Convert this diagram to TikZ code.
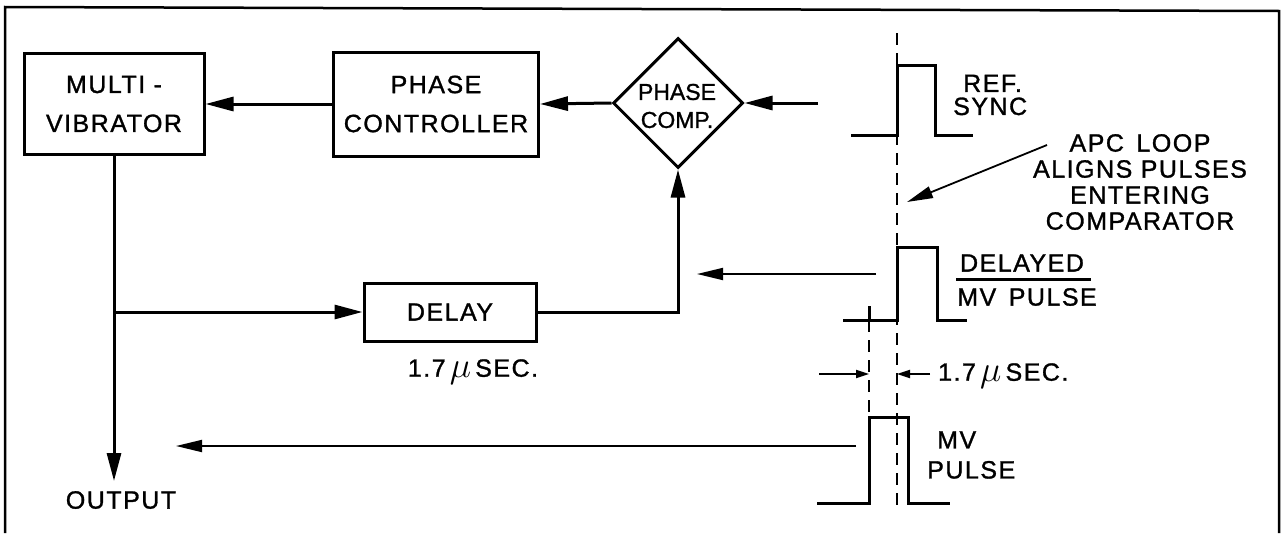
\documentclass[tikz,border=0pt]{standalone}
\usepackage{fontspec}
\setmainfont{Liberation Sans}[LetterSpace=6,FakeBold=1.2]
\usetikzlibrary{shapes.geometric,arrows.meta}
\newcommand{\mymu}{\raisebox{-1pt}{\scalebox{1.45}{$\mu$}}}
\tikzset{
 blk/.style={draw, line width=3pt, rectangle, inner sep=0pt, align=center, font=\fontsize{25}{39}\selectfont},
 lbl/.style={inner sep=0pt, font=\fontsize{25}{26}\selectfont},
 wire/.style={line width=3pt},
 arr/.style={wire, -{Triangle[length=28pt,width=14pt]}},
 sig/.style={line width=1.8pt, -{Triangle[length=26pt,width=12pt]}},
 pulse/.style={line width=3pt, line join=miter},
 guide/.style={line width=2pt, dash pattern=on 12pt off 8pt},
 dimarr/.style={line width=1.8pt, -{Triangle[length=13pt,width=8pt]}},
 frame/.style={line width=2.5pt},
}
\begin{document}
\begin{tikzpicture}[x=1pt,y=-1pt]
\useasboundingbox (0,0) rectangle (1282,533);
% frame
\draw[frame] (5,533) -- (5,7) -- (1279,11) -- (1279,533);
% blocks
\node[blk, minimum width=180pt, minimum height=101pt] (mv) at (114,104) {MULTI -\\VIBRATOR};
\node[blk, minimum width=205pt, minimum height=104pt] (pc) at (436,104) {PHASE\\CONTROLLER};
\node[draw, diamond, line width=3pt, minimum width=130pt, minimum height=130pt, inner sep=0pt] (comp) at (678,103) {};
\node[lbl, align=center, font=\fontsize{23}{28}\selectfont\addfontfeatures{LetterSpace=0}] (comptxt) at (677,106) {PHASE\\COMP.};
\node[blk, minimum width=172pt, minimum height=58pt] (delay) at (450,312) {DELAY};
% connectors
\draw[arr] (pc.west) -- (mv.east);
\draw[arr] (comp.west) -- (pc.east);
\coordinate (refin) at (818,103);
\draw[arr] (refin) -- (comp.east);
\draw[arr] (delay.east) -| (comp.south);
\coordinate (outtip) at (114,481);
\draw[arr] (mv.south) -- (outtip);
\draw[arr] (mv.south |- delay.west) -- (delay.west);
% labels
\node[lbl] (out) at (121,500) {OUTPUT};
\node[lbl] (dlabel) at (473,372) {1.7\,\mymu\,SEC.};
% pulses
\draw[guide] (897,33) -- (897,507);
\draw[guide] (869,320) -- (869,417);
\draw[pulse] (851,135) -- (897,135) -- (897,65) -- (935,65) -- (935,135) -- (973,135);
\draw[pulse] (843,320) -- (897,320) -- (897,247) -- (937,247) -- (937,320) -- (967,320);
\draw[pulse] (869,306) -- (869,322);
\draw[pulse] (817,503) -- (869,503) -- (869,417) -- (908,417) -- (908,503) -- (950,503);
% pulse-to-block arrows
\coordinate (dsrc) at (876,274); \coordinate (ddst) at (697,274);
\draw[sig] (dsrc) -- (ddst);
\coordinate (msrc) at (856,446); \coordinate (mdst) at (176,446);
\draw[sig] (msrc) -- (mdst);
% dimension
\coordinate (dl1) at (819,374); \coordinate (dl2) at (869,374);
\coordinate (dr1) at (930,374); \coordinate (dr2) at (897,374);
\draw[dimarr] (dl1) -- (dl2);
\draw[dimarr] (dr1) -- (dr2);
\node[lbl, anchor=west] (dimtxt) at (938,376) {1.7\,\mymu\,SEC.};
% pulse labels
\node[lbl, align=left, anchor=west, font=\fontsize{25}{23}\selectfont] (ref) at (953,95) {\hspace*{10pt}REF.\\SYNC};
\node[lbl, align=center, font=\fontsize{25}{26}\selectfont] (apc) at (1140,182) {APC\enspace LOOP\\ALIGNS PULSES\\ENTERING\\COMPARATOR};
\coordinate (apcs) at (1047,145); \coordinate (apct) at (907,202);
\draw[sig] (apcs) -- (apct);
\node[lbl] (dlyd) at (1022,263) {DELAYED};
\draw[line width=3pt] (956,279) -- (1091,279);
\node[lbl] (mvp) at (1027,297) {MV\enspace PULSE};
\node[lbl, align=left, anchor=west, font=\fontsize{25}{30}\selectfont] (mvpl) at (927,455) {\hspace*{10pt}MV\\PULSE};
\end{tikzpicture}
\end{document}
